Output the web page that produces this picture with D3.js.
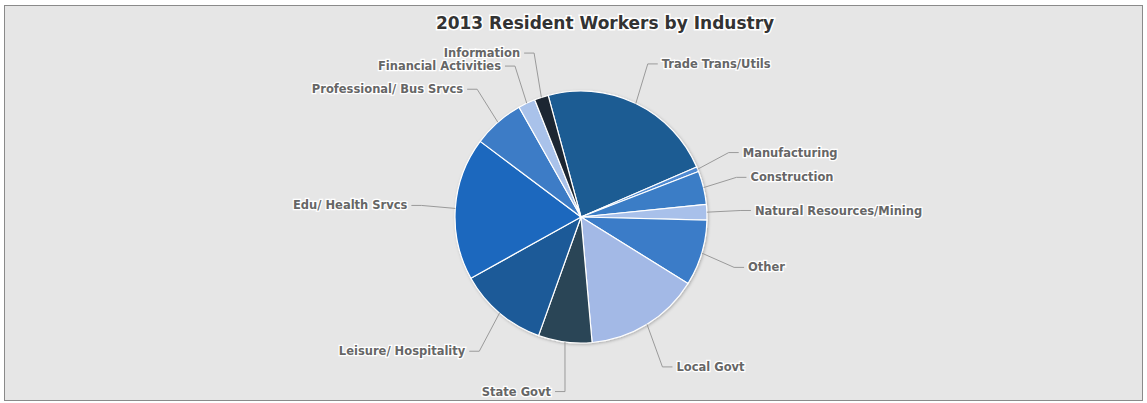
<!DOCTYPE html>
<html>
<head>
<meta charset="utf-8">
<script src="https://cdn.jsdelivr.net/npm/d3@7/dist/d3.min.js"></script>
<style>
  html, body { margin: 0; padding: 0; background: #fff; }
  svg { display: block; }
</style>
</head>
<body>
<svg id="chart" width="1147" height="403"></svg>
<script>
// data (share of resident workers, %)
const categories = ["Trade Trans/Utils", "Manufacturing", "Construction", "Natural Resources/Mining",
  "Other", "Local Govt", "State Govt", "Leisure/ Hospitality", "Edu/ Health Srvcs",
  "Professional/ Bus Srvcs", "Financial Activities", "Information"];
const values = [22.8, 0.6, 4.3, 2.0, 8.5, 14.8, 6.9, 11.5, 18.4, 6.6, 2.2, 1.8];
const colors = ["#1f5b93", "#4f8ad2", "#3b7dc6", "#a8c0ea", "#3a7cc8", "#a3b9e6",
  "#2b4556", "#1b5a98", "#1b68be", "#3c7cc6", "#a9c2ea", "#1b2530"];
const title = "2013 Resident Workers by Industry";

const W = 1147, H = 403;
const cx = 581, cy = 217, r = 126;
const svg = d3.select("#chart");

// frame
svg.append("rect").attr("x", 4.5).attr("y", 5.5).attr("width", W - 9).attr("height", H - 8)
  .attr("fill", "#e6e6e6").attr("stroke", "#8a8a8a");

const defs = svg.append("defs");
const sh = defs.append("filter").attr("id", "shadow").attr("x", "-20%").attr("y", "-20%")
  .attr("width", "140%").attr("height", "140%");
sh.append("feDropShadow").attr("dx", 1).attr("dy", 1).attr("stdDeviation", 1.5)
  .attr("flood-color", "#000").attr("flood-opacity", 0.25);

svg.append("text").attr("x", 605).attr("y", 29).attr("text-anchor", "middle")
  .attr("font-family", "DejaVu Sans, Verdana, sans-serif").attr("font-size", 17)
  .attr("font-weight", "bold").attr("fill", "#333")
  .attr("stroke", "#fff").attr("stroke-width", 3).attr("paint-order", "stroke")
  .text(title);

const pie = d3.pie().sort(null).value(d => d.v).startAngle(-15.1 * Math.PI / 180)
  .endAngle(-15.1 * Math.PI / 180 + 2 * Math.PI);
const arcs = pie(categories.map((c, i) => ({ name: c, v: values[i], color: colors[i] })));
const arc = d3.arc().innerRadius(0).outerRadius(r);

const g = svg.append("g").attr("transform", `translate(${cx},${cy})`);
g.append("g").attr("filter", "url(#shadow)")
  .selectAll("path").data(arcs).join("path")
  .attr("d", arc)
  .attr("fill", d => d.data.color)
  .attr("stroke", "#fff").attr("stroke-width", 1.2).attr("stroke-linejoin", "round");

// label placement
const labels = arcs.map(d => {
  const a = (d.startAngle + d.endAngle) / 2;
  const s = Math.sin(a), c = Math.cos(a);
  const right = s >= 0;
  return {
    name: d.data.name, a, right,
    x: s * 165 + (right ? 9 : -9),
    y: -c * (c < 0 ? 176 : 170),
    ex: s * r, ey: -c * r
  };
});
// keep labels apart on each side
[true, false].forEach(side => {
  const L = labels.filter(l => l.right === side).sort((p, q) => p.y - q.y);
  for (let it = 0; it < 20; it++) {
    for (let i = 1; i < L.length; i++) {
      const gap = L[i].y - L[i - 1].y;
      if (gap < 13) {
        const push = (13 - gap) / 2;
        L[i].y += push; L[i - 1].y -= push;
      }
    }
  }
});

const lg = g.append("g");
lg.selectAll("path").data(labels).join("path")
  .attr("d", d => {
    const sgn = d.right ? 1 : -1;
    const x0 = d.x - sgn * 4, x1 = d.x - sgn * 14;
    return `M${x0},${d.y}L${x1},${d.y}L${d.ex},${d.ey}`;
  })
  .attr("fill", "none").attr("stroke", "#9a9a9a").attr("stroke-width", 1);

lg.selectAll("text").data(labels).join("text")
  .attr("x", d => d.x).attr("y", d => d.y).attr("dy", "0.35em")
  .attr("text-anchor", d => d.right ? "start" : "end")
  .attr("font-family", "DejaVu Sans, Verdana, sans-serif").attr("font-size", 11.5)
  .attr("font-weight", "bold")
  .attr("fill", "#666")
  .attr("stroke", "#fff").attr("stroke-width", 2.5).attr("paint-order", "stroke")
  .text(d => d.name);
</script>
</body>
</html>
